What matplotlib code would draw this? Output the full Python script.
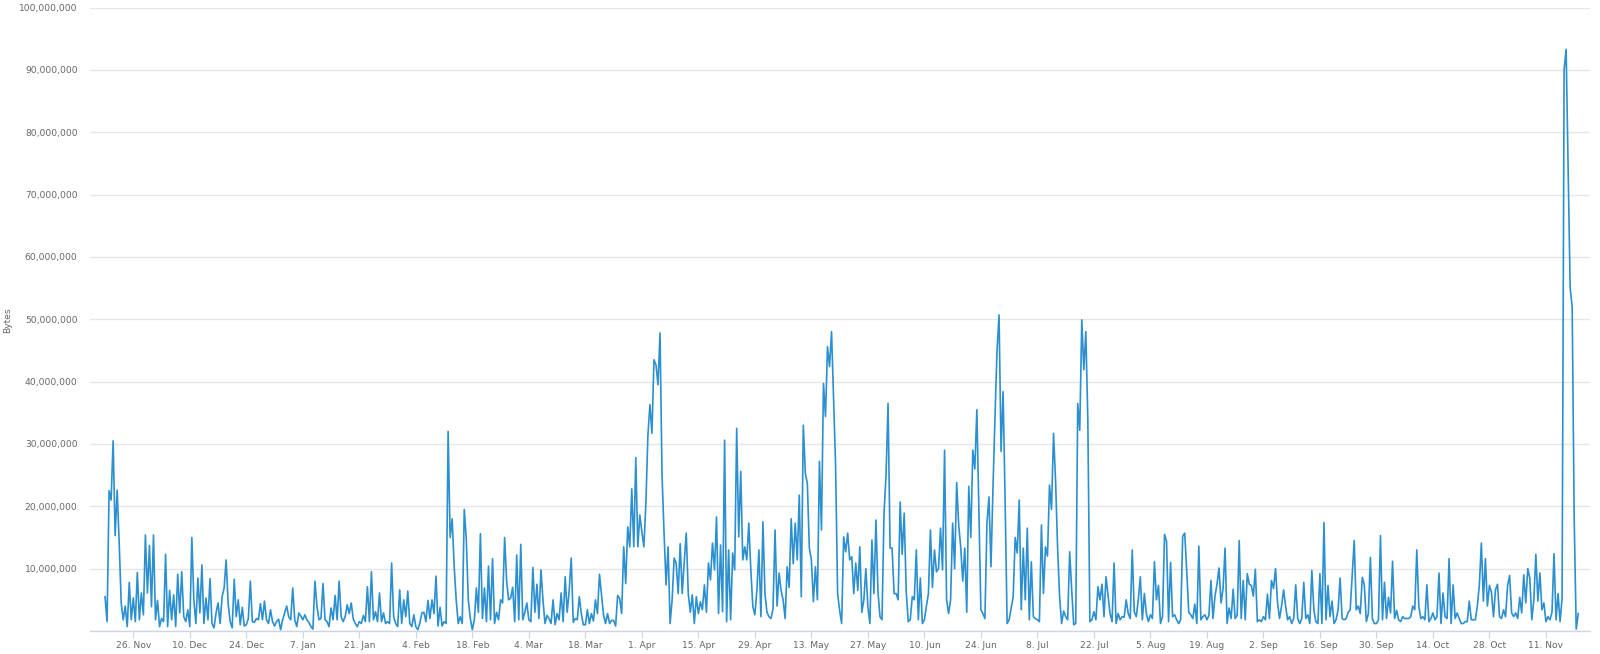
import matplotlib
matplotlib.use("Agg")
import matplotlib.pyplot as plt
import pandas as pd
import numpy as np

# Values in millions of bytes, one point every 12 hours, grouped by two-week block
from_19_nov = [5.5, 1.5, 22.5, 21.0, 30.5, 15.3, 22.6, 14.2, 4.5, 1.8, 4.0, 0.7, 7.8, 1.8]
from_26_nov = [5.3, 1.5, 9.4, 1.8, 6.1, 2.6, 15.4, 6.1, 13.7, 3.9, 15.4, 1.8, 4.9, 0.7, 2.0, 1.5, 12.3, 0.7, 6.5, 1.8, 5.8, 0.7, 9.1, 2.9, 9.5, 2.3, 1.5, 3.4]
from_10_dec = [0.7, 15.0, 5.0, 1.2, 8.5, 2.9, 10.6, 1.2, 5.3, 1.8, 8.4, 1.2, 0.5, 2.9, 4.5, 1.2, 5.5, 6.9, 11.4, 4.4, 1.5, 0.5, 8.3, 2.3, 5.0, 1.0, 3.8, 0.8]
from_24_dec = [1.0, 2.0, 8.0, 1.5, 1.4, 2.0, 1.8, 4.4, 1.8, 4.8, 1.8, 1.2, 3.4, 1.5, 0.8, 1.5, 1.9, 0.2, 1.8, 2.9, 4.0, 2.3, 1.8, 6.9, 1.8, 0.7, 2.9, 2.4]
from_07_jan = [1.8, 2.6, 1.8, 1.4, 0.7, 0.3, 8.0, 4.0, 1.8, 2.0, 7.6, 1.8, 1.5, 0.7, 3.7, 1.8, 5.7, 1.8, 8.0, 2.3, 1.5, 2.3, 4.2, 2.8, 4.5, 1.9, 1.2, 0.7]
from_21_jan = [1.5, 1.2, 2.5, 1.5, 7.1, 1.5, 9.5, 1.8, 3.1, 1.5, 6.1, 1.5, 2.9, 1.2, 1.5, 1.2, 10.9, 2.3, 1.2, 0.7, 6.6, 1.2, 5.0, 2.3, 6.4, 1.2, 0.7, 2.6]
from_04_feb = [0.7, 0.2, 1.3, 2.9, 3.0, 1.5, 4.9, 2.0, 5.0, 2.8, 8.8, 0.8, 3.8, 0.8, 1.5, 1.2, 32.0, 15.0, 18.0, 10.4, 5.0, 1.2, 2.3, 1.2, 19.5, 14.8, 5.0, 2.0]
from_18_feb = [0.2, 1.8, 6.9, 3.0, 15.6, 2.0, 6.9, 1.5, 10.4, 1.8, 11.6, 1.2, 3.0, 1.8, 5.0, 4.5, 15.0, 8.0, 5.0, 5.3, 7.0, 1.5, 12.2, 1.8, 13.9, 1.8, 3.0, 4.5]
from_04_mar = [1.8, 1.5, 10.2, 3.0, 7.5, 2.0, 9.8, 5.0, 1.2, 2.5, 2.0, 1.2, 5.0, 1.0, 2.8, 1.8, 6.1, 1.5, 8.7, 3.0, 6.5, 11.7, 1.4, 2.0, 1.8, 5.5, 2.8, 1.0]
from_18_mar = [1.0, 3.4, 1.2, 2.8, 1.6, 5.0, 2.8, 9.1, 5.8, 2.6, 1.2, 2.8, 1.2, 1.7, 1.7, 0.8, 5.7, 5.2, 2.8, 13.5, 7.6, 16.7, 13.5, 22.8, 13.5, 27.8, 13.5, 18.6]
from_01_apr = [15.9, 13.5, 20.5, 31.4, 36.3, 31.7, 43.5, 42.7, 39.5, 47.8, 25.0, 15.7, 7.4, 13.5, 1.2, 5.0, 11.7, 10.9, 6.0, 14.0, 6.0, 11.1, 15.7, 6.0, 3.0, 5.8, 1.2, 5.5]
from_15_apr = [2.8, 4.7, 3.4, 7.4, 3.0, 10.9, 8.2, 14.1, 9.8, 18.3, 2.8, 13.8, 3.1, 30.6, 1.5, 13.0, 1.8, 12.5, 9.8, 32.5, 15.1, 25.6, 11.4, 13.5, 11.4, 17.3, 9.8, 3.9]
from_29_apr = [2.6, 6.5, 13.0, 2.3, 17.5, 6.0, 3.0, 2.3, 2.0, 3.6, 16.2, 4.0, 9.3, 6.5, 5.0, 2.0, 10.3, 7.0, 18.0, 10.8, 17.3, 11.4, 21.8, 5.5, 33.0, 25.3, 23.7, 13.3]
from_13_may = [11.4, 4.7, 10.3, 5.0, 27.2, 16.2, 39.7, 34.4, 45.6, 42.4, 48.0, 37.0, 26.6, 6.0, 3.3, 1.2, 15.1, 12.7, 15.7, 11.4, 11.9, 6.0, 10.9, 6.5, 13.5, 3.0, 5.0, 10.0]
from_27_may = [3.9, 1.2, 14.6, 6.0, 17.8, 6.3, 2.3, 1.8, 18.9, 25.0, 36.5, 13.3, 13.3, 6.0, 6.0, 5.0, 20.7, 12.3, 18.9, 6.3, 1.5, 1.8, 5.5, 5.0, 13.0, 1.8, 8.5, 1.2]
from_10_jun = [1.8, 4.0, 6.0, 16.2, 7.0, 13.0, 9.5, 10.0, 16.5, 9.8, 29.0, 5.0, 2.8, 5.0, 17.3, 10.0, 23.8, 17.0, 13.5, 8.0, 13.3, 3.0, 23.2, 15.0, 29.0, 26.0, 35.5, 19.0]
from_24_jun = [3.4, 2.8, 2.0, 17.3, 21.5, 10.3, 23.0, 34.4, 45.0, 50.7, 28.8, 38.4, 21.0, 1.2, 1.8, 3.6, 5.5, 15.0, 12.5, 21.0, 3.4, 13.3, 5.0, 16.5, 1.8, 11.1, 2.3, 2.0]
from_08_jul = [1.8, 1.5, 17.0, 6.0, 13.5, 12.0, 23.4, 19.5, 31.7, 24.2, 13.5, 5.5, 1.2, 3.2, 2.3, 1.8, 12.7, 6.6, 1.0, 1.2, 36.5, 32.2, 49.9, 41.9, 48.0, 33.8, 1.5, 1.8]
from_22_jul = [3.1, 1.8, 7.1, 5.0, 7.5, 2.3, 8.7, 5.8, 2.8, 1.5, 10.9, 1.2, 2.8, 1.8, 2.3, 2.2, 5.0, 2.8, 2.0, 13.0, 3.1, 2.3, 5.0, 8.7, 1.8, 6.0, 2.8, 1.5]
from_05_aug = [2.6, 2.0, 11.1, 5.0, 7.3, 1.2, 2.3, 15.5, 14.4, 1.5, 11.0, 2.3, 2.6, 1.8, 1.2, 1.8, 15.2, 15.7, 9.6, 3.0, 2.6, 2.0, 4.3, 1.2, 13.6, 1.8, 2.3, 2.6]
from_19_aug = [1.8, 2.5, 8.1, 2.0, 5.6, 7.5, 10.1, 4.5, 6.8, 13.3, 1.2, 3.7, 2.0, 6.7, 2.0, 2.5, 14.5, 2.0, 8.1, 1.8, 9.2, 7.5, 7.3, 5.6, 9.9, 1.5, 1.8, 1.5]
from_02_sep = [2.3, 1.8, 5.9, 2.0, 8.1, 6.8, 10.0, 4.5, 2.0, 4.0, 6.6, 4.0, 1.8, 2.3, 1.2, 2.0, 7.4, 2.0, 1.2, 2.0, 7.8, 2.0, 2.6, 1.2, 9.7, 3.4, 1.5, 1.2]
from_16_sep = [9.2, 1.2, 17.4, 1.8, 7.3, 2.3, 4.8, 1.2, 1.8, 3.4, 8.5, 2.0, 1.8, 2.0, 3.0, 3.4, 9.0, 14.5, 3.4, 4.0, 2.8, 8.6, 7.4, 1.5, 2.8, 11.8, 2.0, 1.2]
from_30_sep = [1.2, 1.8, 15.3, 1.8, 7.8, 2.0, 5.4, 2.9, 11.2, 2.0, 3.3, 1.8, 1.5, 2.3, 2.0, 2.0, 2.0, 2.3, 4.0, 3.4, 13.0, 4.0, 2.0, 2.3, 1.8, 7.4, 1.5, 2.0]
from_14_oct = [2.9, 1.8, 2.3, 9.3, 1.2, 6.1, 2.3, 2.0, 11.6, 1.2, 7.4, 2.0, 2.9, 2.0, 1.2, 1.2, 1.5, 1.5, 4.8, 1.8, 1.8, 1.8, 4.0, 7.4, 14.1, 4.8, 11.6, 4.0]
from_28_oct = [7.3, 6.2, 2.3, 6.6, 7.5, 2.3, 2.0, 3.4, 2.3, 7.3, 8.9, 2.9, 2.3, 2.9, 2.0, 5.4, 2.9, 9.0, 4.5, 10.0, 8.5, 1.8, 5.0, 12.3, 4.8, 9.3, 3.4, 4.5]
from_11_nov = [1.5, 2.3, 1.8, 3.0, 12.4, 1.8, 6.0, 1.5, 5.3, 90.0, 93.3, 74.0, 55.0, 52.0, 18.0, 0.3, 2.8]

blocks = [from_19_nov, from_26_nov, from_10_dec, from_24_dec, from_07_jan, from_21_jan,
          from_04_feb, from_18_feb, from_04_mar, from_18_mar, from_01_apr, from_15_apr,
          from_29_apr, from_13_may, from_27_may, from_10_jun, from_24_jun, from_08_jul,
          from_22_jul, from_05_aug, from_19_aug, from_02_sep, from_16_sep, from_30_sep,
          from_14_oct, from_28_oct, from_11_nov]
values_m = np.concatenate([np.asarray(b, dtype=float) for b in blocks])
start_date = "2018-11-19"
step = "12h"
dates = pd.date_range(start_date, periods=len(values_m), freq=step)
values = values_m * 1e6

tick_dates = pd.date_range("2018-11-26", "2019-11-11", freq="14D")
tick_labels = [f"{d.day}. {d.strftime('%b')}" for d in tick_dates]
y_ticks = np.arange(0, 100_000_001, 10_000_000)
y_label = "Bytes"

W, H = 1600, 654
fig = plt.figure(figsize=(W / 100, H / 100), dpi=100)
left, right, bottom_px, top_px = 90, 1590, 631, 7.5
ax = fig.add_axes([left / W, 1 - bottom_px / H, (right - left) / W, (bottom_px - top_px) / H])

line_color = "#2b8fd0"
ax.plot(dates, values, color=line_color, lw=1.2, solid_joinstyle="round", zorder=3)

ax.set_ylim(0, 100_000_000)
ax.set_xlim(pd.Timestamp("2018-11-15 06:30"), pd.Timestamp("2019-11-21 22:00"))

ax.set_yticks(y_ticks)
ax.set_yticklabels(["" if v == 0 else f"{v:,.0f}" for v in y_ticks])
ax.set_xticks(tick_dates)
ax.set_xticklabels(tick_labels)

ax.grid(axis="y", color="#e6e6e6", lw=1.0, zorder=0)
ax.grid(axis="x", visible=False)
for s in ["top", "right", "left"]:
    ax.spines[s].set_visible(False)
ax.spines["bottom"].set_color("#ccd6eb")
ax.spines["bottom"].set_linewidth(1.0)
ax.spines["bottom"].set_zorder(2)

ax.tick_params(axis="y", length=0, pad=9, labelsize=6.6, labelcolor="#666666")
ax.tick_params(axis="x", length=5.2, width=0.8, color="#ccd6eb", direction="out",
               pad=1.8, labelsize=6.6, labelcolor="#666666")

fig.text(8 / W, 1 - 320 / H, y_label, rotation=90, ha="center", va="center",
         fontsize=6.6, color="#666666")

fig.savefig("out.png", dpi=100, facecolor="white")
